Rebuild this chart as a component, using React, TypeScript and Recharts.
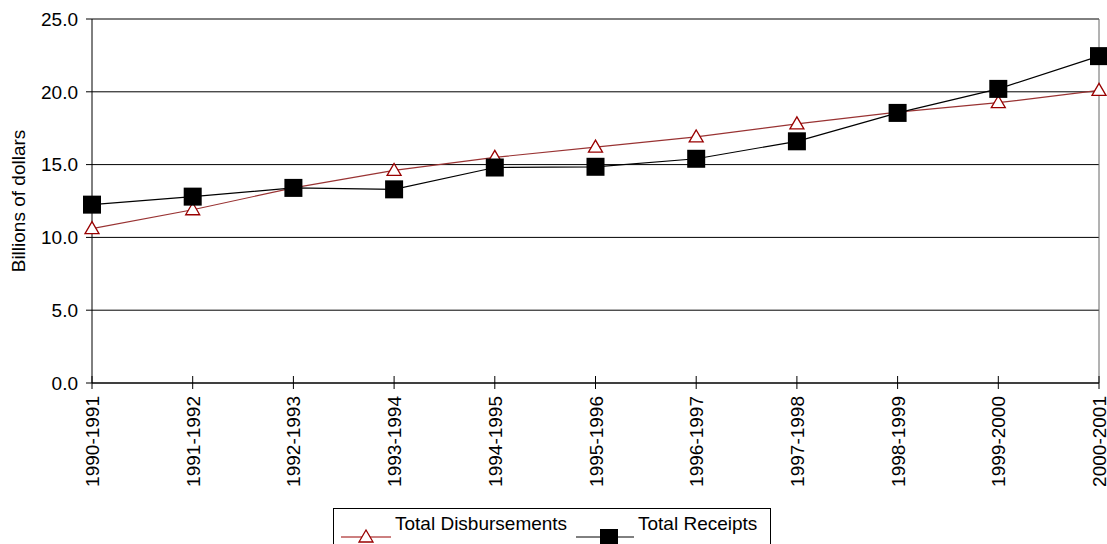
import React from 'react'
import { LineChart, Line, XAxis, YAxis, CartesianGrid, ReferenceLine } from 'recharts'

const years = [
  '1990-1991', '1991-1992', '1992-1993', '1993-1994', '1994-1995', '1995-1996',
  '1996-1997', '1997-1998', '1998-1999', '1999-2000', '2000-2001',
]
const disbursements = [10.6, 11.9, 13.4, 14.6, 15.5, 16.2, 16.9, 17.8, 18.6, 19.25, 20.1]
const receipts = [12.25, 12.8, 13.4, 13.3, 14.8, 14.85, 15.4, 16.6, 18.55, 20.2, 22.45]
const yTicks = [0, 5, 10, 15, 20, 25]

const RED = '#990000'
const FONT = '"Liberation Sans", Arial, sans-serif'

const data = years.map((year, i) => ({
  year,
  disb: disbursements[i],
  rec: receipts[i],
}))

// hollow triangle, excel style
const triangleDot = (props: any) => {
  const { cx, cy, index } = props
  if (cx == null || cy == null) return <g key={index} />
  return (
    <path
      key={index}
      d={`M${cx},${cy - 7} L${cx - 7},${cy + 5} L${cx + 7},${cy + 5} Z`}
      fill="#fff"
      stroke={RED}
      strokeWidth={1.3}
    />
  )
}

const squareDot = (props: any) => {
  const { cx, cy, index } = props
  if (cx == null || cy == null) return <g key={index} />
  return <rect key={index} x={cx - 9} y={cy - 9} width={18} height={18} fill="#000" />
}

const XTick = ({ x, y, payload }: any) => (
  <g>
    <line x1={x} x2={x} y1={y - 7} y2={y + 6} stroke="#000" />
    <text
      transform={`translate(${x + 7},${y + 13}) rotate(-90)`}
      textAnchor="end"
      fontSize={19}
      fill="#000"
      fontFamily={FONT}
    >
      {payload.value}
    </text>
  </g>
)

const YLabel = (props: any) => {
  const { viewBox } = props
  const cx = viewBox.x + 18
  const cy = viewBox.y + viewBox.height / 2
  return (
    <text
      x={cx}
      y={cy}
      transform={`rotate(-90 ${cx} ${cy})`}
      textAnchor="middle"
      dominantBaseline="central"
      fontSize={19}
      fill="#000"
      fontFamily={FONT}
    >
      Billions of dollars
    </text>
  )
}

function ChartLegend() {
  const txt: React.CSSProperties = {
    position: 'absolute',
    top: 4,
    fontSize: 19,
    lineHeight: '22px',
    color: '#000',
    whiteSpace: 'nowrap',
  }
  return (
    <div
      style={{
        position: 'absolute',
        left: 333,
        top: 508,
        width: 438,
        height: 44,
        border: '1px solid #000',
        boxSizing: 'border-box',
        background: '#fff',
      }}
    >
      <svg style={{ position: 'absolute', left: 6, top: 18 }} width={52} height={20}>
        <line x1={1} x2={51} y1={10} y2={10} stroke={RED} strokeWidth={1} />
        <path d="M26,3 L19,15 L33,15 Z" fill="#fff" stroke={RED} strokeWidth={1.3} />
      </svg>
      <span style={{ ...txt, left: 61 }}>Total Disbursements</span>
      <svg style={{ position: 'absolute', left: 241, top: 18 }} width={60} height={24}>
        <line x1={1} x2={59} y1={10} y2={10} stroke="#000" strokeWidth={1} />
        <rect x={25} y={2} width={18} height={18} fill="#000" />
      </svg>
      <span style={{ ...txt, left: 304 }}>Total Receipts</span>
    </div>
  )
}

export default function App() {
  return (
    <div
      style={{
        position: 'absolute',
        left: 0,
        top: 0,
        width: 1107,
        height: 544,
        overflow: 'hidden',
        background: '#fff',
        fontFamily: FONT,
      }}
    >
      <LineChart width={1107} height={544} data={data} margin={{ top: 19, right: 8, left: 0, bottom: 0 }}>
        <CartesianGrid vertical={false} stroke="#000" strokeWidth={1} />
        <ReferenceLine x="2000-2001" stroke="#666" />
        <XAxis
          dataKey="year"
          height={161}
          interval={0}
          tickSize={0}
          tickMargin={0}
          tickLine={false}
          axisLine={{ stroke: '#000' }}
          tick={<XTick />}
        />
        <YAxis
          width={92}
          domain={[0, 25]}
          ticks={yTicks}
          interval={0}
          tickSize={6}
          tickMargin={8}
          tickFormatter={(v: number) => v.toFixed(1)}
          tick={{ fontSize: 19, fill: '#000', fontFamily: FONT }}
          axisLine={{ stroke: '#000' }}
          tickLine={{ stroke: '#000' }}
          label={{ content: YLabel }}
        />
        <Line
          dataKey="disb"
          name="Total Disbursements"
          stroke="#993333"
          strokeWidth={1.2}
          dot={triangleDot}
          isAnimationActive={false}
        />
        <Line
          dataKey="rec"
          name="Total Receipts"
          stroke="#000"
          strokeWidth={1.2}
          dot={squareDot}
          isAnimationActive={false}
        />
      </LineChart>
      <ChartLegend />
    </div>
  )
}
